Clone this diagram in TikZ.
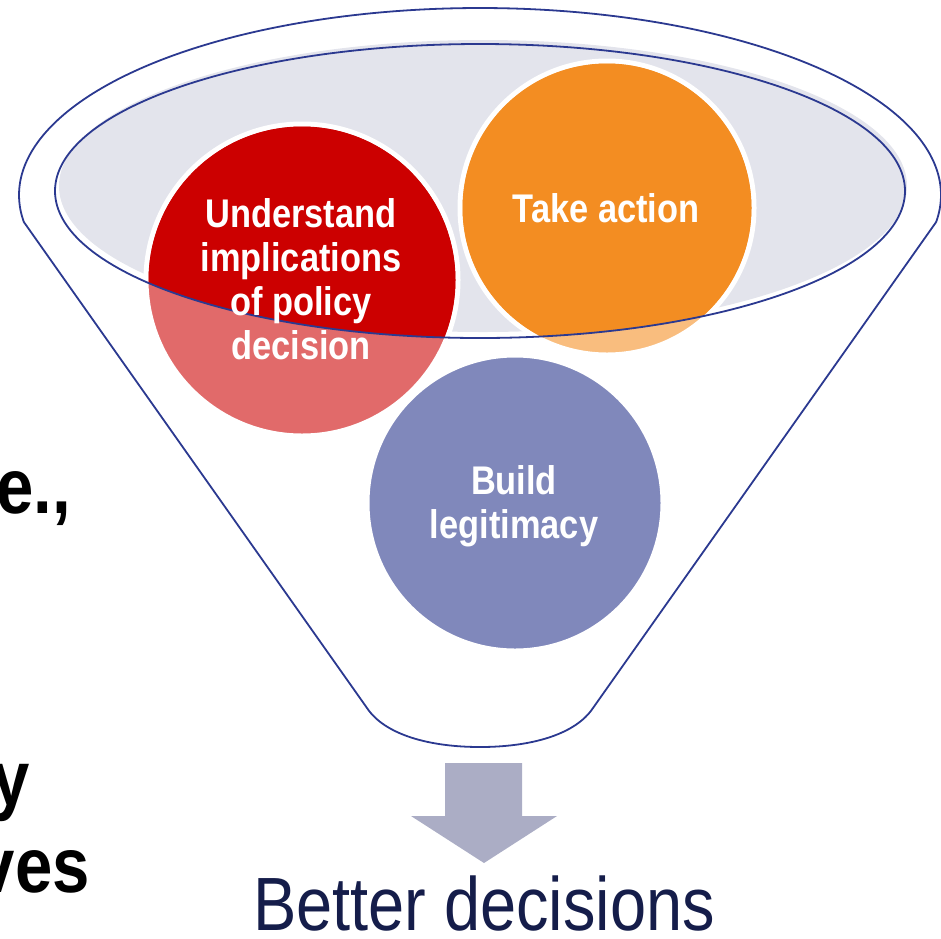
\documentclass[tikz,border=0pt]{standalone}
\usepackage{fontspec}
\setmainfont{Liberation Sans}
\newfontfamily\condfont[FakeStretch=0.86]{Liberation Sans}
\definecolor{funnelline}{HTML}{2B3990}
\definecolor{funnelfill}{HTML}{E3E4EC}
\definecolor{reddark}{HTML}{CC0000}
\definecolor{redlight}{HTML}{E16A6A}
\definecolor{orangedark}{HTML}{F38D22}
\definecolor{orangelight}{HTML}{F9BD7E}
\definecolor{purplec}{HTML}{8088BB}
\definecolor{arrowc}{HTML}{ABADC5}
\definecolor{navytext}{HTML}{151D4A}
\tikzset{
  bubble/.style={circle, draw=white, line width=5pt, inner sep=0pt},
  bubbletext/.style={text=white, align=center, font=\condfont\bfseries\fontsize{40}{44}\selectfont},
  outline/.style={draw=funnelline, line width=1.8pt},
  sidetext/.style={text=black, font=\condfont\bfseries\fontsize{78}{80}\selectfont, inner sep=0pt},
}
\begin{document}
\begin{tikzpicture}[x=1pt,y=-1pt]
\useasboundingbox (0,0) rectangle (941,938);
% inner ellipse fill
\fill[funnelfill] (483,186) ellipse [x radius=424pt, y radius=146pt];
% bubbles: light versions
\node[bubble, fill=redlight, minimum size=312pt] (red) at (302,280) {};
\node[bubble, fill=orangelight, minimum size=294pt] (orange) at (607,208) {};
\node[bubble, fill=purplec, minimum size=296pt] (purple) at (515,503) {};
% dark parts inside the funnel mouth
\begin{scope}
  \clip (480,191) ellipse [x radius=425pt, y radius=147pt];
  \fill[reddark] (red.center) circle (153.5pt);
  \fill[orangedark] (orange.center) circle (144.5pt);
\end{scope}
% inner ellipse outline
\draw[outline] (480,191) ellipse [x radius=425pt, y radius=147pt];
% funnel outer outline
\coordinate (bl) at (367,708);
\coordinate (br) at (593,708);
\coordinate (bm) at (480,747);
\draw[outline, line join=round] (bl) -- plot[domain=171.7:368.3, samples=120, smooth] ({480+461*cos(\x)}, {195+187*sin(\x)}) -- (br)
  .. controls (575,735) and (530,747) .. (bm)
  .. controls (430,747) and (385,735) .. (bl);
% labels (anchor base = last line)
\node[bubbletext, anchor=base] (redtext) at (301,359) {Understand\\implications\\of policy\\decision};
\node[bubbletext, anchor=base] (orangetext) at (606,222) {Take action};
\node[bubbletext, anchor=base] (purpletext) at (514,538) {Build\\legitimacy};
% arrow
\coordinate (a1) at (445,763);
\coordinate (a2) at (522,763);
\coordinate (tip) at (484,863);
\fill[arrowc] (a1) -- (a2) -- (522,816) -- (557,816) -- (tip) -- (411,816) -- (445,816) -- cycle;
\node[text=navytext, anchor=base, inner sep=0pt, font=\condfont\fontsize{75.5}{80}\selectfont] (better) at (484,930) {Better decisions};
% cut-off text at left edge
\node[sidetext, anchor=base east] (s1) at (71,513) {e.,};
\node[sidetext, anchor=base east] (s2) at (30,805) {y};
\node[sidetext, anchor=base east] (s3) at (90,892) {ves};
\end{tikzpicture}
\end{document}
